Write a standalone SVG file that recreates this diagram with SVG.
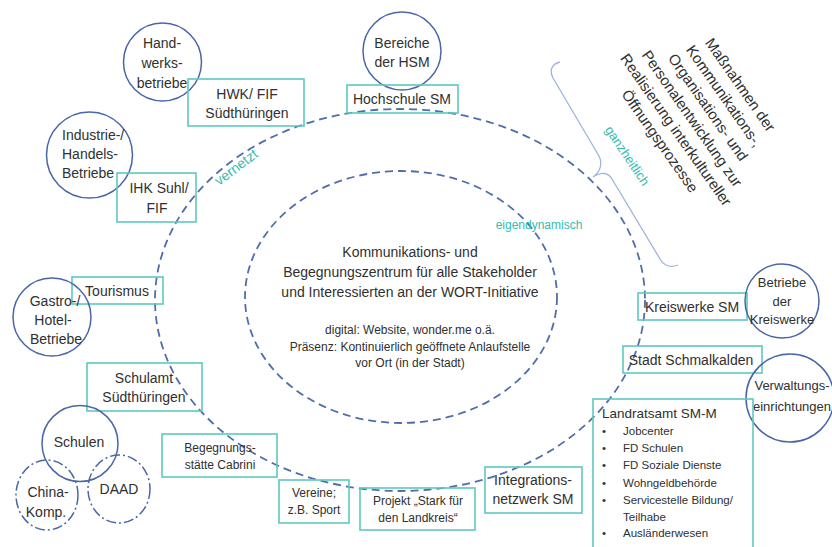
<svg xmlns="http://www.w3.org/2000/svg" width="832" height="547" viewBox="0 0 832 547">
<style>
text{font-family:"Liberation Sans",Arial,sans-serif;fill:#303030;text-anchor:middle}
.f14{font-size:14px}.f13{font-size:13px}.f12{font-size:12px}
.box{fill:none;stroke:#5ec8c1;stroke-width:1.6}
.circ{fill:none;stroke:#4a66a8;stroke-width:1.5}
.dd{fill:none;stroke:#4a66a8;stroke-width:1.5;stroke-dasharray:10 3 2 3}
.ring{fill:none;stroke:#4f6ea8;stroke-width:1.8;stroke-dasharray:8 5}
.teal{fill:#34bbb0}
.brace{fill:none;stroke:#9fb4e0;stroke-width:1.3}
</style>
<rect width="832" height="547" fill="#fff"/>

<g id="rings">
<ellipse class="ring" cx="400" cy="300" rx="245" ry="191"/>
<ellipse class="ring" cx="401" cy="297" rx="156" ry="126"/>
</g>

<g id="connectors">
<path class="brace" d="M560,62 C552,64 549,70 553,78 L599,156 C603,164 600,172 593,177 C601,172 608,172 612,179 L660,259 C664,266 671,268 678,265"/>
</g>

<g id="labels">
<text class="f14 teal" transform="translate(239,171) rotate(-37)">vernetzt</text>
<text class="f12 teal" x="539" y="229">eigendynamisch</text>
<text class="f13 teal" transform="translate(627,156) rotate(56) translate(0,4)">ganzheitlich</text>
</g>

<g id="massnahmen" transform="translate(700,113) rotate(55)">
<text style="font-size:15px" x="0" y="-44">Maßnahmen der</text>
<text style="font-size:15px" x="0" y="-24.4">Kommunikations-,</text>
<text style="font-size:15px" x="0" y="-4.8">Organisations- und</text>
<text style="font-size:15px" x="0" y="14.8">Personalentwicklung zur</text>
<text style="font-size:15px" x="0" y="34.4">Realisierung interkultureller</text>
<text style="font-size:15px" x="0" y="54">Öffnungsprozesse</text>
</g>

<g id="zentrum">
<text class="f14" x="410" y="257">Kommunikations- und</text>
<text class="f14" x="410" y="277">Begegnungszentrum für alle Stakeholder</text>
<text class="f14" x="410" y="297">und Interessierten an der WORT-Initiative</text>
<text class="f12" x="410" y="334">digital: Website, wonder.me o.ä.</text>
<text class="f12" x="410" y="350.5">Präsenz: Kontinuierlich geöffnete Anlaufstelle</text>
<text class="f12" x="410" y="367">vor Ort (in der Stadt)</text>
</g>

<g id="handwerksbetriebe">
<circle class="circ" cx="162.5" cy="62" r="39"/>
<text class="f14" x="162" y="48">Hand-</text>
<text class="f14" x="162" y="68">werks-</text>
<text class="f14" x="162" y="88">betriebe</text>
</g>

<g id="hwk">
<rect class="box" x="188" y="79" width="116" height="47"/>
<text class="f14" x="247" y="99">HWK/ FIF</text>
<text class="f14" x="247" y="118">Südthüringen</text>
</g>

<g id="industrie">
<circle class="circ" cx="89.5" cy="155" r="43"/>
<text class="f14" x="62" y="140" style="text-anchor:start">Industrie-/</text>
<text class="f14" x="62" y="159" style="text-anchor:start">Handels-</text>
<text class="f14" x="62" y="178" style="text-anchor:start">Betriebe</text>
</g>

<g id="ihk">
<rect class="box" x="117" y="173" width="79" height="49"/>
<text class="f14" x="159" y="193">IHK Suhl/</text>
<text class="f14" x="157" y="213">FIF</text>
</g>

<g id="bereiche-hsm">
<circle class="circ" cx="402" cy="51" r="39"/>
<text class="f14" x="402" y="48">Bereiche</text>
<text class="f14" x="402" y="67">der HSM</text>
</g>

<g id="hochschule">
<rect class="box" x="347" y="85" width="111" height="28"/>
<text class="f14" x="402" y="104">Hochschule SM</text>
</g>

<g id="tourismus">
<rect class="box" x="72" y="277" width="91" height="27"/>
<text class="f14" x="117" y="296">Tourismus</text>
</g>

<g id="gastro">
<circle class="circ" cx="52" cy="317" r="39"/>
<text class="f14" x="55" y="306">Gastro-/</text>
<text class="f14" x="53" y="325">Hotel-</text>
<text class="f14" x="56" y="344">Betriebe</text>
</g>

<g id="schulamt">
<rect class="box" x="87" y="363" width="115" height="48"/>
<text class="f14" x="144" y="383">Schulamt</text>
<text class="f14" x="144" y="402">Südthüringen</text>
</g>

<g id="schulen">
<circle class="circ" cx="80" cy="443.5" r="38"/>
<text class="f14" x="79" y="447">Schulen</text>
</g>

<g id="china">
<ellipse class="dd" cx="47" cy="495" rx="31" ry="35"/>
<text class="f14" x="48" y="497">China-</text>
<text class="f14" x="46" y="517">Komp.</text>
</g>

<g id="daad">
<ellipse class="dd" cx="119" cy="489" rx="31" ry="34"/>
<text class="f14" x="119" y="494">DAAD</text>
</g>

<g id="cabrini">
<rect class="box" x="162" y="434" width="115" height="43"/>
<text class="f12" x="220" y="452">Begegnungs-</text>
<text class="f12" x="220" y="469">stätte Cabrini</text>
</g>

<g id="vereine">
<rect class="box" x="279" y="480" width="70" height="43"/>
<text class="f12" x="314" y="497">Vereine;</text>
<text class="f12" x="314" y="514">z.B. Sport</text>
</g>

<g id="projekt">
<rect class="box" x="360" y="488" width="115" height="42"/>
<text class="f12" x="418" y="505">Projekt „Stark für</text>
<text class="f12" x="418" y="522">den Landkreis“</text>
</g>

<g id="integration">
<rect class="box" x="485" y="467" width="97" height="46"/>
<text class="f14" x="533" y="485">Integrations-</text>
<text class="f14" x="533" y="504">netzwerk SM</text>
</g>

<g id="kreiswerke">
<rect class="box" x="638" y="293" width="109" height="27"/>
<text class="f14" x="692" y="312">Kreiswerke SM</text>
</g>

<g id="betriebe-kreiswerke">
<circle class="circ" cx="782" cy="301" r="37"/>
<text class="f13" x="782" y="287">Betriebe</text>
<text class="f13" x="782" y="306">der</text>
<text class="f13" x="782" y="324">Kreiswerke</text>
</g>

<g id="stadt">
<rect class="box" x="623" y="346" width="139" height="27"/>
<text class="f14" x="691" y="365">Stadt Schmalkalden</text>
</g>

<g id="verwaltung">
<circle class="circ" cx="790" cy="398" r="44"/>
<text class="f13" x="792" y="390">Verwaltungs-</text>
<text class="f13" x="792" y="411">einrichtungen</text>
</g>

<g id="landratsamt">
<rect class="box" x="593" y="399" width="160" height="160"/>
<text style="font-size:13.5px;text-anchor:start" x="602" y="418">Landratsamt SM-M</text>
<g style="font-size:11.5px">
<text x="604" y="435">•</text><text x="623" y="435" style="text-anchor:start">Jobcenter</text>
<text x="604" y="452">•</text><text x="623" y="452" style="text-anchor:start">FD Schulen</text>
<text x="604" y="469">•</text><text x="623" y="469" style="text-anchor:start">FD Soziale Dienste</text>
<text x="604" y="486.5">•</text><text x="623" y="486.5" style="text-anchor:start">Wohngeldbehörde</text>
<text x="604" y="503.5">•</text><text x="623" y="503.5" style="text-anchor:start">Servicestelle Bildung/</text>
<text x="623" y="520.5" style="text-anchor:start">Teilhabe</text>
<text x="604" y="537">•</text><text x="623" y="537" style="text-anchor:start">Ausländerwesen</text>
</g>
</g>
</svg>
